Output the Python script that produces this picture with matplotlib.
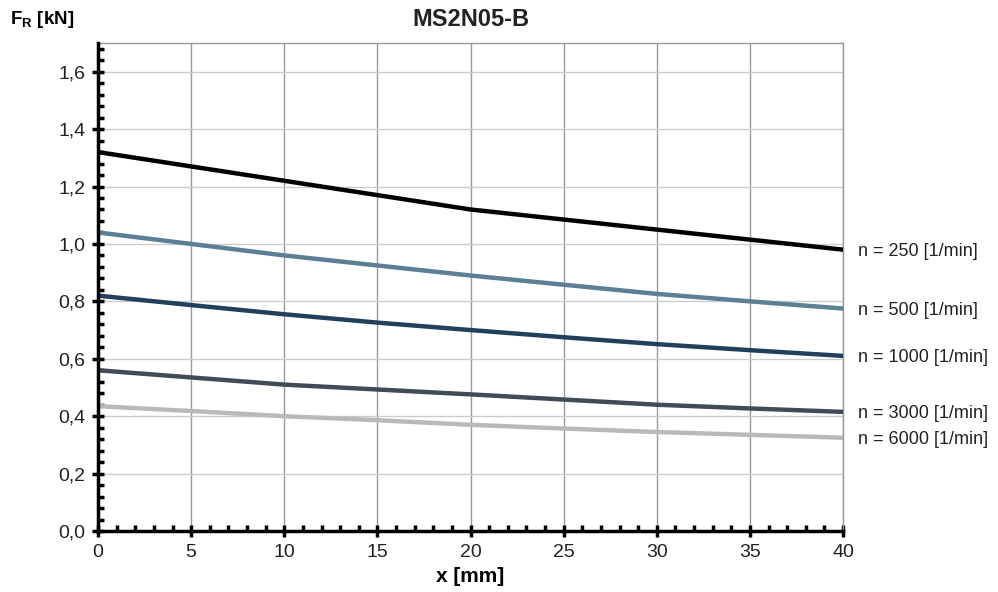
import matplotlib
matplotlib.use("Agg")
import matplotlib.pyplot as plt
from matplotlib.ticker import MultipleLocator, FuncFormatter

plt.rcParams['font.family'] = ['Liberation Sans', 'DejaVu Sans']

x_mm = [0, 5, 10, 15, 20, 25, 30, 35, 40]
f_250 = [1.32, 1.27, 1.22, 1.17, 1.12, 1.085, 1.05, 1.015, 0.98]
f_500 = [1.04, 1.0, 0.96, 0.925, 0.89, 0.858, 0.826, 0.80, 0.775]
f_1000 = [0.82, 0.787, 0.755, 0.726, 0.70, 0.675, 0.651, 0.63, 0.61]
f_3000 = [0.56, 0.535, 0.51, 0.493, 0.476, 0.458, 0.44, 0.427, 0.415]
f_6000 = [0.435, 0.418, 0.40, 0.386, 0.37, 0.357, 0.345, 0.335, 0.325]

series = [
    ("n = 250 [1/min]", f_250, "#000000"),
    ("n = 500 [1/min]", f_500, "#5b7f94"),
    ("n = 1000 [1/min]", f_1000, "#213f5e"),
    ("n = 3000 [1/min]", f_3000, "#414a57"),
    ("n = 6000 [1/min]", f_6000, "#b9b9b9"),
]

fig = plt.figure(figsize=(9.98, 5.92), dpi=100)
ax = fig.add_axes([0.0982, 0.103, 0.7465, 0.8244])

for label, vals, col in series:
    ax.plot(x_mm, vals, color=col, lw=3.2, solid_capstyle="round", zorder=3)
    ax.annotate(label, xy=(x_mm[-1], vals[-1]), xytext=(11, -1.5), textcoords="offset points",
                va="center", ha="left", fontsize=13, color="#222222", annotation_clip=False)

ax.set_xlim(0, 40)
ax.set_ylim(0, 1.7)
ax.xaxis.set_major_locator(MultipleLocator(5))
ax.xaxis.set_minor_locator(MultipleLocator(1))
ax.yaxis.set_major_locator(MultipleLocator(0.2))
ax.yaxis.set_minor_locator(MultipleLocator(0.04))
ax.yaxis.set_major_formatter(FuncFormatter(lambda v, p: f"{v:.1f}".replace(".", ",")))

ax.grid(True, axis="x", which="major", color="#999999", lw=1)
ax.grid(True, axis="y", which="major", color="#cccccc", lw=1)
ax.set_axisbelow(True)

for s in ["top", "right"]:
    ax.spines[s].set_color("#999999")
    ax.spines[s].set_linewidth(1)
for s in ["left", "bottom"]:
    ax.spines[s].set_color("black")
    ax.spines[s].set_linewidth(2.5)
    ax.spines[s].set_zorder(4)

ax.tick_params(which="major", direction="inout", length=8, width=2.5, labelsize=14, pad=5,
               labelcolor="#222222")
ax.tick_params(which="minor", direction="in", length=4, width=2.5)

ax.set_title("MS2N05-B", fontsize=17, fontweight="bold", pad=12, color="#222222")
ax.set_xlabel("x [mm]", fontsize=15, fontweight="bold", labelpad=5)
fig.text(0.01, 0.967, r"F$_\mathregular{R}$ [kN]", fontsize=13.5, fontweight="bold", va="center", ha="left")

plt.savefig("out.png", dpi=100)
